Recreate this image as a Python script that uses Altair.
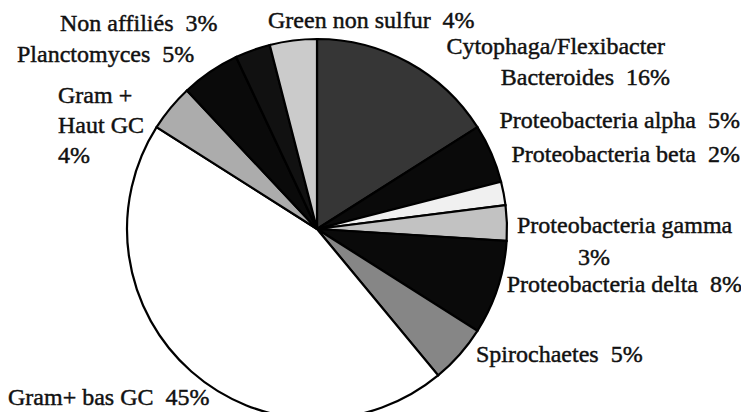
import altair as alt
import pandas as pd

# ---- data (clockwise from 12 o'clock) ----
categories = [
    "Cytophaga/Flexibacter Bacteroides",
    "Proteobacteria alpha",
    "Proteobacteria beta",
    "Proteobacteria gamma",
    "Proteobacteria delta",
    "Spirochaetes",
    "Gram+ bas GC",
    "Gram + Haut GC",
    "Planctomyces",
    "Non affiliés",
    "Green non sulfur",
]
percent = [16, 5, 2, 3, 8, 5, 45, 4, 5, 3, 4]
fills = ["#363636", "#0a0a0a", "#f0f0f0", "#c2c2c2", "#0a0a0a", "#868686",
         "#ffffff", "#acacac", "#0a0a0a", "#111111", "#cbcbcb"]

NB = "\u00a0"
# ---- label texts and their layout (page pixels) ----
label_text = [
    "Green non sulfur" + NB + " 4%",
    "Non affiliés" + NB + " 3%",
    "Planctomyces" + NB + " 5%",
    "Gram +",
    "Haut GC",
    "4%",
    "Cytophaga/Flexibacter",
    "Bacteroides" + NB + " 16%",
    "Proteobacteria alpha" + NB + " 5%",
    "Proteobacteria beta" + NB + " 2%",
    "Proteobacteria gamma",
    "3%",
    "Proteobacteria delta" + NB + " 8%",
    "Spirochaetes" + NB + " 5%",
    "Gram+ bas GC" + NB + " 45%",
]
label_x = [268, 60, 17, 58, 58, 58, 665, 670, 740, 740, 517, 578, 742, 476, 8]
label_y = [21, 24, 55, 96, 126, 156, 47, 78, 121, 155, 226, 258, 285, 355, 398]
label_align = ["left", "left", "left", "left", "left", "left", "right", "right",
               "right", "right", "left", "left", "right", "left", "left"]

M = 8  # page margin
CX, CY, R = 317 - M, 229 - M, 190
FONT = "Liberation Serif, Times New Roman, DejaVu Serif, serif"

df = pd.DataFrame({"cat": categories, "pct": percent, "idx": list(range(len(categories)))})
lab = pd.DataFrame({
    "t": label_text,
    "x": [v - M for v in label_x],
    "y": [v - M for v in label_y],
    "a": label_align,
})

pie = alt.Chart(df).mark_arc(radius=R, stroke="#000000", strokeWidth=2.2).encode(
    theta=alt.Theta("pct:Q", stack=True),
    order=alt.Order("idx:Q"),
    color=alt.Color("cat:N", scale=alt.Scale(domain=categories, range=fills), legend=None),
    x=alt.value(CX),
    y=alt.value(CY),
)

def text_layer(align):
    return alt.Chart(lab).transform_filter(alt.datum.a == align).mark_text(
        font=FONT, fontSize=24, color="#111111",
        stroke="#111111", strokeWidth=0.45,
        align=align, baseline="middle",
    ).encode(
        x=alt.X("x:Q", scale=None),
        y=alt.Y("y:Q", scale=None),
        text="t:N",
    )

chart = alt.layer(pie, text_layer("left"), text_layer("right")).properties(
    width=733, height=404, padding=0,
    autosize=alt.AutoSizeParams(type="none"),
    background="#ffffff",
).configure_view(stroke=None)

chart.save("out.html", embed_options={"renderer": "svg", "actions": False})
